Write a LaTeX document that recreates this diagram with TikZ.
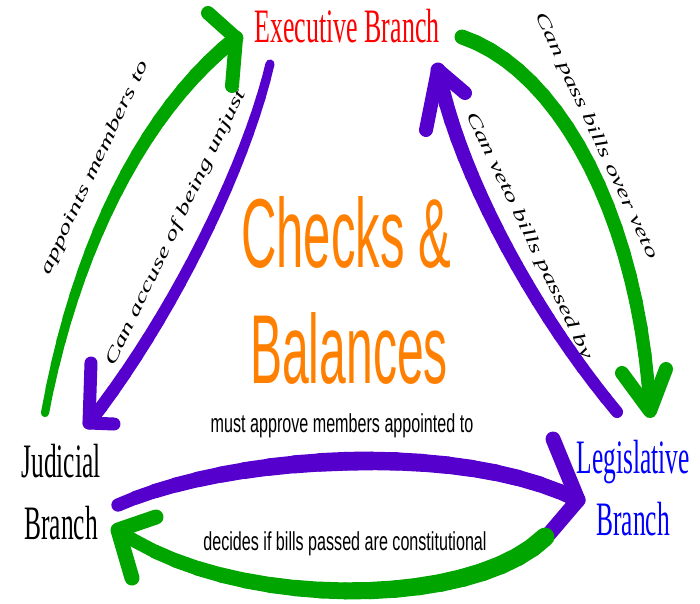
\documentclass[tikz,border=0pt]{standalone}
\usepackage{fontspec}
\setmainfont{Liberation Serif}
\setsansfont{Liberation Sans}
\usepackage{graphicx}
\definecolor{grn}{RGB}{0,165,0}
\definecolor{prp}{RGB}{85,0,204}
\definecolor{org}{RGB}{255,128,0}
\definecolor{blu}{RGB}{0,0,255}
\definecolor{rd}{RGB}{255,0,0}
% tapered brush stroke along a cubic curve: colour, start, control 1, control 2, end, width start, width middle, width end
\newcommand\brushcurve[8]{%
  \foreach \i in {0,...,19}{%
    \pgfmathsetmacro\brTa{\i/20}%
    \pgfmathsetmacro\brTb{(\i+1)/20}%
    \pgfmathsetmacro\brTm{(\i+0.5)/20}%
    \pgfmathsetmacro\brW{\brTm<0.5 ? #6+(#7-#6)*\brTm*2 : #7+(#8-#7)*(\brTm-0.5)*2}%
    \path (#2) .. controls (#3) and (#4) .. (#5)
      coordinate[pos=\brTa] (segA) coordinate[pos=\brTb] (segB);
    \draw[#1, line width=\brW pt, line cap=round] (segA) -- (segB);
  }%
}
\begin{document}
\begin{tikzpicture}[x=1pt,y=-1pt,
  branch/.style={anchor=base, inner sep=0pt, font=\fontsize{48}{50}\selectfont},
  bigtitle/.style={anchor=base, inner sep=0pt, text=org, font=\sffamily\fontsize{98}{100}\selectfont},
  smalltext/.style={anchor=base, inner sep=0pt, font=\sffamily\fontsize{26}{28}\selectfont},
  slanttext/.style={inner sep=0pt, font=\itshape\fontsize{28}{30}\selectfont},
  brush/.style={line width=#1, line cap=round, line join=round},
  brush/.default=13pt
]
\fill[white] (0,0) rectangle (700,603);
\useasboundingbox (0,0) rectangle (700,603);

% branch labels
\node[branch, text=rd] (exec) at (347,42) {\scalebox{0.54}[1]{Executive Branch}};
\node[branch] (jud1) at (61,477) {\scalebox{0.53}[1]{Judicial}};
\node[branch] (jud2) at (61,539) {\scalebox{0.53}[1]{Branch}};
\node[branch, text=blu] (leg1) at (633,473) {\scalebox{0.53}[1]{Legislative}};
\node[branch, text=blu] (leg2) at (633,535) {\scalebox{0.53}[1]{Branch}};

% title
\node[bigtitle] (checks) at (346,267) {\scalebox{0.5}[1]{Checks \&}};
\node[bigtitle] (balances) at (349,383) {\scalebox{0.49}[1]{Balances}};

% horizontal small labels
\node[smalltext] (approve) at (342,432) {\scalebox{0.62}[1]{must approve members appointed to}};
\node[smalltext] (decides) at (345,550) {\scalebox{0.62}[1]{decides if bills passed are constitutional}};

% rotated labels
\node[slanttext, rotate=64.8] (appoints) at (95,168) {\scalebox{1}[0.62]{appoints members to}};
\node[slanttext, rotate=64.4] (accuse) at (176,228) {\scalebox{1}[0.62]{Can accuse of being unjust}};
\node[slanttext, rotate=-65] (override) at (596,136) {\scalebox{1}[0.62]{Can pass bills over veto}};
\node[slanttext, rotate=-64.3] (veto) at (529,236) {\scalebox{1}[0.62]{Can veto bills passed by}};

% arrow coordinates (start, controls, tip, barbs)
\coordinate (g1s) at (45,413);  \coordinate (g1c) at (75,250);  \coordinate (g1d) at (142,112); \coordinate (g1t) at (236,38);
\coordinate (g1a) at (208,13);  \coordinate (g1b) at (232,86);

\coordinate (p1s) at (270,64);  \coordinate (p1c) at (245,170); \coordinate (p1d) at (170,320); \coordinate (p1t) at (89,423);
\coordinate (p1a) at (91,363);  \coordinate (p1b) at (114,424);

\coordinate (g2s) at (462,37);  \coordinate (g2c) at (560,70);  \coordinate (g2d) at (640,220); \coordinate (g2t) at (650,411);
\coordinate (g2a) at (622,373); \coordinate (g2b) at (666,369);

\coordinate (p2s) at (617,412); \coordinate (p2c) at (540,320); \coordinate (p2d) at (460,180); \coordinate (p2t) at (438,70);
\coordinate (p2a) at (426,130); \coordinate (p2b) at (465,93);

\coordinate (p3s) at (118,505); \coordinate (p3c) at (230,455); \coordinate (p3d) at (460,440); \coordinate (p3t) at (578,500);
\coordinate (p3a) at (553,439); \coordinate (p3b) at (549,534);

\coordinate (g3s) at (545,537); \coordinate (g3c) at (470,610); \coordinate (g3d) at (230,610); \coordinate (g3t) at (118,530);
\coordinate (g3a) at (156,517); \coordinate (g3b) at (132,578);

% judicial -> executive (green)
\brushcurve{grn}{g1s}{g1c}{g1d}{g1t}{8}{12}{15}
\draw[grn, brush=14pt] (g1a) -- (g1t) -- (g1b);
% executive -> judicial (purple)
\brushcurve{prp}{p1s}{p1c}{p1d}{p1t}{9}{11}{13}
\draw[prp, brush=13pt] (p1a) -- (p1t) -- (p1b);
% executive -> legislative (green)
\brushcurve{grn}{g2s}{g2c}{g2d}{g2t}{15}{14}{13}
\draw[grn, brush=14pt] (g2a) -- (g2t) -- (g2b);
% legislative -> executive (purple)
\brushcurve{prp}{p2s}{p2c}{p2d}{p2t}{12}{13}{15}
\draw[prp, brush=14pt] (p2a) -- (p2t) -- (p2b);
% judicial -> legislative (purple)
\brushcurve{prp}{p3s}{p3c}{p3d}{p3t}{13}{19}{15}
\draw[prp, brush=15pt] (p3a) -- (p3t) -- (p3b);
% legislative -> judicial (green)
\brushcurve{grn}{g3s}{g3c}{g3d}{g3t}{19}{17}{13}
\draw[grn, brush=15pt] (g3a) -- (g3t) -- (g3b);
\end{tikzpicture}
\end{document}
